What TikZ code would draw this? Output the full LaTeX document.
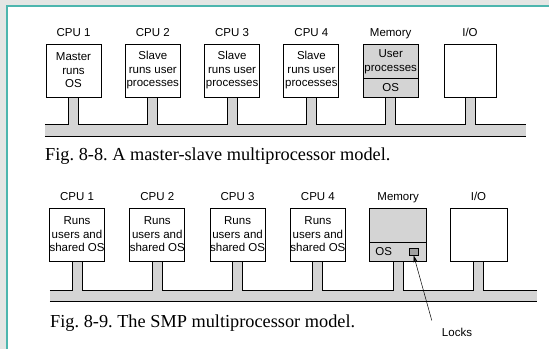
\documentclass[tikz,border=0pt]{standalone}
\usepackage{fontspec}
\setmainfont{Liberation Serif}
\setsansfont{Liberation Sans}
\usetikzlibrary{positioning}
\usetikzlibrary{arrows.meta, calc}

\definecolor{slidegray}{HTML}{E4E6E4}
\definecolor{slideteal}{HTML}{4DB6AE}
\definecolor{boxgray}{HTML}{D4D4D4}
\definecolor{lockgray}{HTML}{A0A0A0}

\begin{document}
\begin{tikzpicture}[x=1pt,y=-1pt]

\tikzset{unit box/.style={
		draw, line width=1pt,
		minimum width=#1, minimum height=53pt,
		align=center, inner sep=0pt,
		font=\sffamily\fontsize{11.5}{13.5}\selectfont
	},
	unit box/.default=55pt,
	unit label/.style={
		inner sep=0pt, text depth=0pt,
		font=\sffamily\fontsize{11.5}{13.5}\selectfont
	},
	bus/.style={
		fill=boxgray, inner sep=0pt, minimum width=#1
	},
	caption/.style={
		inner sep=0pt, anchor=base west,
		font=\rmfamily\fontsize{18.3}{21}\selectfont\frenchspacing
	}
}

\useasboundingbox (0,0) rectangle (549,349);
\fill[slidegray] (0,0) rectangle (549,349);
\fill[white] (7,6) rectangle (549,349);
\draw[slideteal, line width=1.5pt] (7,349) -- (7,6) -- (549,6);

% master-slave
\node[bus=481pt, minimum height=11pt] (bus1) at (285.5,130.5) {};
\draw[line width=1pt] (bus1.north west) -- (bus1.north east)
	(bus1.south west) -- (bus1.south east);

\foreach \i/\txt [evaluate=\i as \xc using 73.5+79.3*(\i-1)] in
	{1/{Master\\runs\\OS}, 2/{Slave\\runs user\\processes},
	 3/{Slave\\runs user\\processes}, 4/{Slave\\runs user\\processes}}
{
	\node[unit box] (m\i) at (\xc,70.5) {\txt};
	\node[unit label, above=7pt of m\i] {CPU \i};
}
\node[unit box, fill=boxgray] (mmem) at (390.7,70.5) {};
\node[unit box, fill=boxgray, minimum height=19pt, anchor=south] (mos) at (mmem.south) {OS};
\node[unit label, align=center] at ($(mmem.north)!0.5!(mos.north)$) {User\\processes};
\node[unit label, above=7pt of mmem] {Memory};
\node[unit box=52pt] (mio) at (470,70.5) {};
\node[unit label, above=7pt of mio] {I/O};

\foreach \n in {m1,m2,m3,m4,mmem,mio} {
	\fill[boxgray] ($(\n.south)+(-5,0.5)$) rectangle ($(\n.south |- bus1.north)+(5,0.6)$);
	\draw[line width=1pt] ($(\n.south)+(-5,0)$) -- ($(\n.south |- bus1.north)+(-5,0)$)
		($(\n.south)+(5,0)$) -- ($(\n.south |- bus1.north)+(5,0)$);
}

\node[caption] (cap1) at (45,160) {Fig. 8-8. A master-slave multiprocessor model.};

% SMP
\node[bus=487pt, minimum height=10pt] (bus2) at (293.5,296) {};
\draw[line width=1pt] (bus2.north west) -- (bus2.north east)
	(bus2.south west) -- (bus2.south east);

\foreach \i [evaluate=\i as \xc using 77+80.3*(\i-1)] in {1,2,3,4}
{
	\node[unit box=54pt] (s\i) at (\xc,234.5) {Runs\\users and\\shared OS};
	\node[unit label, above=7pt of s\i] {CPU \i};
}
\node[unit box=57pt, fill=boxgray] (smem) at (398.2,234.5) {};
\node[unit box=57pt, fill=boxgray, minimum height=19pt, anchor=south] (sos) at (smem.south) {};
\node[unit label, anchor=west] at ($(sos.west)+(6,0)$) {OS};
\node[draw, line width=0.8pt, fill=lockgray, inner sep=0pt,
	minimum width=9pt, minimum height=7pt] (lock) at ($(sos.east)+(-13.5,0)$) {};
\node[unit label, above=7pt of smem] {Memory};
\node[unit box=57pt] (sio) at (478.5,234.5) {};
\node[unit label, above=7pt of sio] {I/O};

\foreach \n in {s1,s2,s3,s4,smem,sio} {
	\fill[boxgray] ($(\n.south)+(-5,0.5)$) rectangle ($(\n.south |- bus2.north)+(5,0.6)$);
	\draw[line width=1pt] ($(\n.south)+(-5,0)$) -- ($(\n.south |- bus2.north)+(-5,0)$)
		($(\n.south)+(5,0)$) -- ($(\n.south |- bus2.north)+(5,0)$);
}

\node[unit label, anchor=base] (locks) at (457,336) {Locks};
\draw[line width=0.5pt, -{Stealth[length=7pt, width=4pt]}]
	($(locks.north west)+(-10,-7)$) -- (lock.south);

\node[caption] (cap2) at (50,327) {Fig. 8-9. The SMP multiprocessor model.};

\end{tikzpicture}
\end{document}
